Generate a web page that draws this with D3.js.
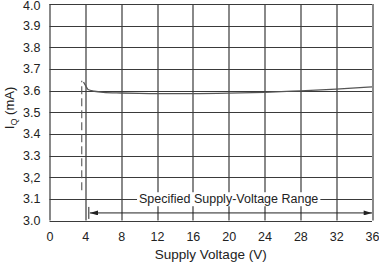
<!DOCTYPE html>
<html>
<head>
<meta charset="utf-8">
<script src="https://cdn.jsdelivr.net/npm/d3@7"></script>
<style>
  body { margin: 0; background: #fff; }
  text { font-family: "Liberation Sans", Arial, sans-serif; fill: #222; }
</style>
</head>
<body>
<svg id="chart"></svg>
<script>
// supply current vs supply voltage
const voltage = [3.8, 4.0, 4.3, 5, 6, 8, 10, 12, 16, 20, 24, 28, 32, 36];
const currentMA = [3.640, 3.625, 3.605, 3.597, 3.592, 3.589, 3.587, 3.586, 3.586, 3.588, 3.592, 3.599, 3.607, 3.617];
const dashedV = [3.6, 3.6];
const dashedI = [3.14, 3.645];
const xTicks = [0, 4, 8, 12, 16, 20, 24, 28, 32, 36];
const yTicks = [3.0, 3.1, 3.2, 3.3, 3.4, 3.5, 3.6, 3.7, 3.8, 3.9, 4.0];
const yTickLabels = ["3.0", "3.1", "3,2", "3.3", "3.4", "3.5", "3.6", "3.7", "3.8", "3.9", "4.0"];
const rangeStart = 4.5, rangeEnd = 36, rangeLevel = 3.035;
const rangeLabel = "Specified Supply-Voltage Range";

const W = 379, H = 262;
const margin = { top: 4, right: 7, bottom: 41.5, left: 49.5 };
const width = W - margin.left - margin.right;
const height = H - margin.top - margin.bottom;

const svg = d3.select("#chart").attr("width", W).attr("height", H);
const g = svg.append("g").attr("transform", `translate(${margin.left},${margin.top})`);

const x = d3.scaleLinear().domain([0, 36]).range([0, width]);
const y = d3.scaleLinear().domain([3.0, 4.0]).range([height, 0]);

// grid
g.append("g").selectAll("line").data(xTicks).join("line")
  .attr("x1", d => Math.round(x(d)) + 0.5).attr("x2", d => Math.round(x(d)) + 0.5)
  .attr("y1", 0).attr("y2", height)
  .attr("stroke", "#3a3a3a").attr("stroke-width", 1.2);
g.append("g").selectAll("line").data(yTicks).join("line")
  .attr("y1", d => Math.round(y(d)) + 0.5).attr("y2", d => Math.round(y(d)) + 0.5)
  .attr("x1", 0).attr("x2", width)
  .attr("stroke", "#3a3a3a").attr("stroke-width", 1.2);

// axes labels
const xAxis = g.append("g").attr("transform", `translate(0,${height})`)
  .call(d3.axisBottom(x).tickValues(xTicks).tickSize(0).tickPadding(12).tickFormat(d3.format("d")));
xAxis.select(".domain").remove();
xAxis.selectAll("text").style("font-size", "12.5px").attr("fill", "#222");

const yAxis = g.append("g")
  .call(d3.axisLeft(y).tickValues(yTicks).tickSize(0).tickPadding(9).tickFormat((d, i) => yTickLabels[i]));
yAxis.select(".domain").remove();
yAxis.selectAll("text").style("font-size", "12.5px").attr("fill", "#222");
// top label sits at the edge, nudge it in a touch
yAxis.selectAll(".tick").filter(d => d === 4.0).select("text").attr("dy", "0.45em");

// curve
const line = d3.line().x(d => x(d[0])).y(d => y(d[1])).curve(d3.curveMonotoneX);
g.append("path")
  .datum(voltage.map((v, i) => [v, currentMA[i]]))
  .attr("d", line)
  .attr("fill", "none").attr("stroke", "#555").attr("stroke-width", 1.3);

g.append("path")
  .datum(dashedV.map((v, i) => [v, dashedI[i]]))
  .attr("d", d3.line().x(d => x(d[0])).y(d => y(d[1])))
  .attr("fill", "none").attr("stroke", "#555").attr("stroke-width", 1.1)
  .attr("stroke-dasharray", "8,4");

// specified range annotation
const defs = svg.append("defs");
defs.append("marker").attr("id", "ah").attr("viewBox", "0 0 10 6")
  .attr("refX", 10).attr("refY", 3).attr("markerWidth", 9).attr("markerHeight", 5)
  .attr("markerUnits", "userSpaceOnUse").attr("orient", "auto-start-reverse")
  .append("path").attr("d", "M0,0 L10,3 L0,6 Z").attr("fill", "#222");

const ay = y(rangeLevel);
g.append("line")
  .attr("x1", x(rangeStart)).attr("x2", x(rangeEnd))
  .attr("y1", ay).attr("y2", ay)
  .attr("stroke", "#222").attr("stroke-width", 1)
  .attr("marker-start", "url(#ah)").attr("marker-end", "url(#ah)");
g.append("line")
  .attr("x1", x(rangeStart) - 1).attr("x2", x(rangeStart) - 1)
  .attr("y1", ay - 6).attr("y2", ay + 6)
  .attr("stroke", "#222").attr("stroke-width", 1);

const lblG = g.append("g");
const bgRect = lblG.append("rect").attr("fill", "#fff");
const lbl = lblG.append("text")
  .attr("x", x(20)).attr("y", y(3.1))
  .attr("dy", "0.35em").attr("text-anchor", "middle")
  .style("font-size", "12.5px").text(rangeLabel);
const bb = lbl.node().getBBox();
bgRect.attr("x", bb.x - 2).attr("y", bb.y).attr("width", bb.width + 4).attr("height", bb.height);

// titles
svg.append("text")
  .attr("x", margin.left + width / 2).attr("y", 259)
  .attr("text-anchor", "middle").style("font-size", "13.5px")
  .text("Supply Voltage (V)");

const yt = svg.append("text")
  .attr("transform", `translate(14,108) rotate(-90)`)
  .attr("text-anchor", "middle").style("font-size", "13px");
yt.append("tspan").text("I");
yt.append("tspan").attr("dy", 3).style("font-size", "9px").text("Q");
yt.append("tspan").attr("dy", -3).text(" (mA)");
</script>
</body>
</html>
